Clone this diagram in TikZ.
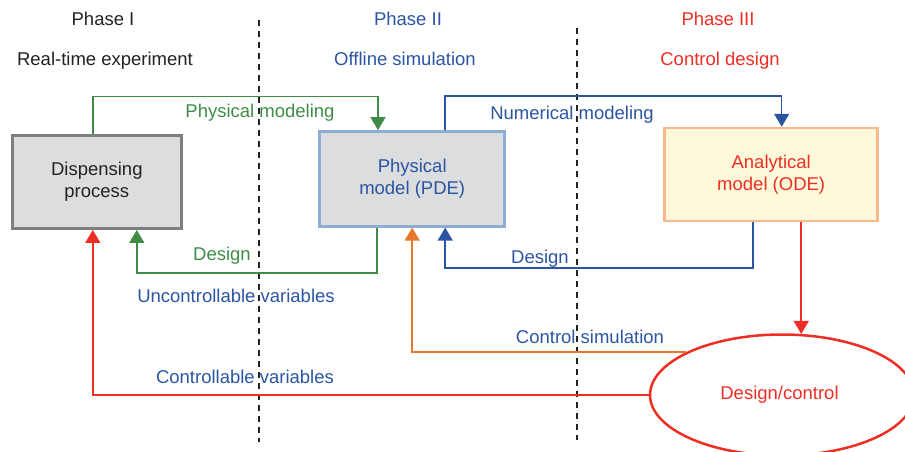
\documentclass[tikz,border=0pt]{standalone}
\usepackage{fontspec}
\setmainfont{Liberation Sans}
\usetikzlibrary{arrows.meta,shapes.geometric,calc}
\definecolor{cblue}{HTML}{2B55A3}
\definecolor{cgreen}{HTML}{3F8C47}
\definecolor{cred}{HTML}{EE2E24}
\definecolor{corange}{HTML}{E8772E}
\definecolor{cgrayb}{HTML}{7F7F7F}
\definecolor{cfill}{HTML}{DCDDDF}
\definecolor{cphysb}{HTML}{8DADD3}
\definecolor{canafill}{HTML}{FFF9DB}
\definecolor{canab}{HTML}{F8B98D}
\definecolor{ctext}{HTML}{222222}
\tikzset{
  lbl/.style={font=\fontsize{18.5}{22}\selectfont, inner sep=0pt, text height=13.5pt, text depth=0pt},
  boxnode/.style={draw, line width=2.5pt, align=center, font=\fontsize{18.5}{22}\selectfont, inner sep=0pt},
  conn/.style={line width=1.5pt, -{Triangle[width=15pt,length=13pt]}},
  vdash/.style={line width=1.3pt, dash pattern=on 6pt off 5pt, ctext}
}
\begin{document}
\begin{tikzpicture}[x=1pt,y=-1pt]
\useasboundingbox (0,0) rectangle (905,452);
% dashed dividers
\coordinate (d1t) at (259,20);
\coordinate (d1b) at (259,442);
\coordinate (d2t) at (577,28);
\coordinate (d2b) at (577,440);
\draw[vdash] (d1t) -- (d1b);
\draw[vdash] (d2t) -- (d2b);
% headers
\node[lbl, text=ctext] (h1) at (103,19) {Phase I};
\node[lbl, text=ctext] (s1) at (105,59) {Real-time experiment};
\node[lbl, text=cblue] (h2) at (408,19) {Phase II};
\node[lbl, text=cblue] (s2) at (405,59) {Offline simulation};
\node[lbl, text=cred] (h3) at (718,19) {Phase III};
\node[lbl, text=cred] (s3) at (720,59) {Control design};
% boxes
\node[boxnode, draw=cgrayb, fill=cfill, text=ctext, minimum width=169pt, minimum height=93pt] (disp) at (96.8,182.2) {Dispensing\\process};
\node[boxnode, draw=cphysb, fill=cfill, text=cblue, minimum width=185pt, minimum height=95pt] (phys) at (412.2,178.9) {Physical\\model (PDE)};
\node[boxnode, draw=canab, fill=canafill, text=cred, minimum width=213pt, minimum height=93pt] (ana) at (771.2,174.5) {Analytical\\model (ODE)};
\node[ellipse, draw=cred, line width=2.5pt, text=cred, minimum width=264pt, minimum height=121pt, inner sep=0pt, font=\fontsize{18.5}{22}\selectfont] (dc) at (782,395) {\hspace*{-5pt}Design/control};
% physical modeling
\coordinate (pm1) at ($(disp.north)+(-4,0)$);
\draw[conn, cgreen] (pm1) -- ++(0,-38) -| (phys.north -| 378,0);
\node[lbl, text=cgreen] (lpm) at (260,111) {Physical modeling};
% design green
\coordinate (dg1) at ($(phys.south)+(-35,0)$);
\coordinate (dg2) at ($(disp.south)+(40,0)$);
\draw[conn, cgreen] (dg1) |- (dg2 |- 0,273) -- (dg2);
\node[lbl, text=cgreen] (ldg) at (222,254) {Design};
% numerical modeling
\coordinate (nm1) at ($(phys.north)+(33,0)$);
\coordinate (nm2) at ($(ana.north)+(10.5,0)$);
\draw[conn, cblue] (nm1) |- (nm2 |- 0,96) -- (nm2);
\node[lbl, text=cblue] (lnm) at (572,113) {Numerical modeling};
% design blue
\coordinate (db1) at ($(ana.south)+(-18,0)$);
\coordinate (db2) at ($(phys.south)+(33,0)$);
\draw[conn, cblue] (db1) |- (db2 |- 0,268) -- (db2);
\node[lbl, text=cblue] (ldb) at (540,257) {Design};
% red to ellipse
\coordinate (r1) at ($(ana.south)+(30,0)$);
\draw[conn, cred] (r1) -- (r1 |- dc.72);
% control simulation
\draw[conn, corange] (dc.156) -- (dc.156 -| phys.south) -- (phys.south);
\node[lbl, text=cblue] (lcs) at (590,337) {Control simulation};
% controllable variables
\coordinate (cv) at ($(disp.south)+(-4,0)$);
\draw[conn, cred] (dc.west) -- (dc.west -| cv) -- (cv);
\node[lbl, text=cblue] (lcv) at (245,377) {Controllable variables};
% uncontrollable variables
\node[lbl, text=cblue] (luv) at (236,296) {Uncontrollable variables};
\end{tikzpicture}
\end{document}
